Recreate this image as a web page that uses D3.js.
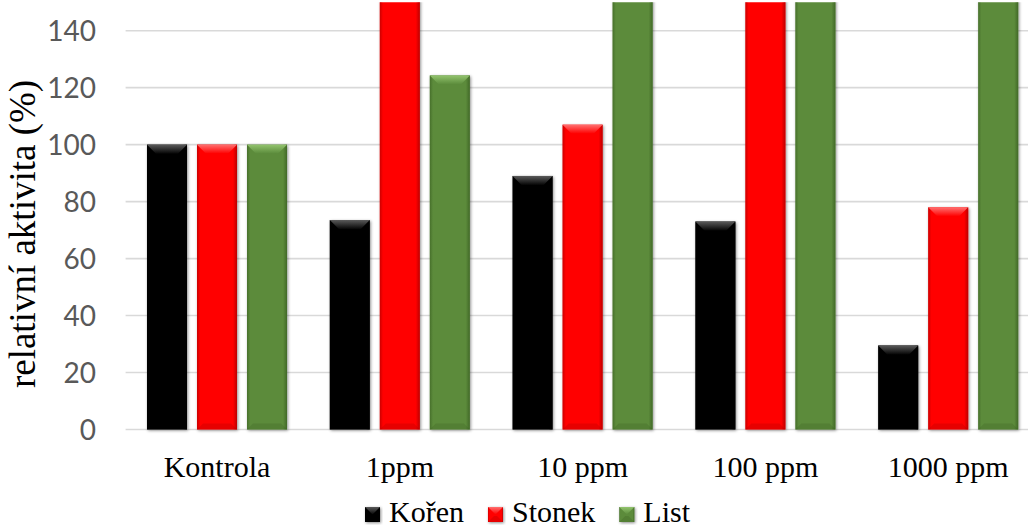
<!DOCTYPE html>
<html>
<head>
<meta charset="utf-8">
<script src="https://cdn.jsdelivr.net/npm/d3@7"></script>
<style>
  body { margin: 0; background: #fff; }
  svg { display: block; }
</style>
</head>
<body>
<script>
// data; bars above 150 run off the top of the chart
const categories = ['Kontrola', '1ppm', '10 ppm', '100 ppm', '1000 ppm']
const series = ['Kořen', 'Stonek', 'List']
const koren = [100, 73.5, 89, 73, 29.5]
const stonek = [100, 170, 107, 175, 78]
const list = [100, 124.3, 165, 180, 190]
const yTicks = [0, 20, 40, 60, 80, 100, 120, 140]
const colors = ['#050505', '#ff0000', '#5b8b3b']
const lights = ['#5a5a5a', '#ff7070', '#93c46e']
const darks = ['#000000', '#a00000', '#365a1f']

const W = 1028, H = 529
const margin = { top: 2.2, left: 125.6 }
const plotW = 914, plotH = 427.3
const serif = 'Liberation Serif, Times New Roman, serif'

const svg = d3.select('body').append('svg')
    .attr('width', W)
    .attr('height', H)

const defs = svg.append('defs')
defs.append('clipPath').attr('id', 'plotclip')
    .append('rect')
    .attr('x', margin.left - 5).attr('y', margin.top)
    .attr('width', plotW + 10).attr('height', plotH + 10)

const shadow = defs.append('filter').attr('id', 'shadow')
    .attr('x', '-20%').attr('y', '-20%').attr('width', '140%').attr('height', '140%')
shadow.append('feDropShadow')
    .attr('dx', 1).attr('dy', 1).attr('stdDeviation', 1.6)
    .attr('flood-color', '#000').attr('flood-opacity', 0.45)

series.forEach((s, i) => {
    let g = defs.append('linearGradient').attr('id', 'side' + i)
        .attr('x1', 0).attr('x2', 1).attr('y1', 0).attr('y2', 0)
    g.append('stop').attr('offset', 0).attr('stop-color', darks[i]).attr('stop-opacity', 0.55)
    g.append('stop').attr('offset', 0.08).attr('stop-color', darks[i]).attr('stop-opacity', 0)
    g.append('stop').attr('offset', 0.9).attr('stop-color', darks[i]).attr('stop-opacity', 0)
    g.append('stop').attr('offset', 1).attr('stop-color', darks[i]).attr('stop-opacity', 0.7)
    let t = defs.append('linearGradient').attr('id', 'top' + i)
        .attr('x1', 0).attr('x2', 0).attr('y1', 0).attr('y2', 1)
    t.append('stop').attr('offset', 0).attr('stop-color', lights[i])
    t.append('stop').attr('offset', 1).attr('stop-color', colors[i])
})

const data = categories.map((c, i) => ({
    cat: c,
    values: [koren[i], stonek[i], list[i]]
}))

const x = d3.scaleBand()
    .domain(categories)
    .range([margin.left, margin.left + plotW])
    .paddingInner(0.234)
    .paddingOuter(0.117)

const xSub = d3.scaleBand()
    .domain(series)
    .range([0, x.bandwidth()])
    .paddingInner(0.2)

const y = d3.scaleLinear()
    .domain([0, 150])
    .range([margin.top + plotH, margin.top])

// grid lines
svg.append('g')
    .selectAll('line')
    .data(yTicks)
    .enter().append('line')
    .attr('x1', margin.left)
    .attr('x2', margin.left + plotW)
    .attr('y1', d => y(d))
    .attr('y2', d => y(d))
    .attr('stroke', '#d9d9d9')
    .attr('stroke-width', 1.6)

// y tick labels
svg.append('g')
    .selectAll('text')
    .data(yTicks)
    .enter().append('text')
    .attr('x', 96)
    .attr('y', d => y(d))
    .attr('dy', '0.36em')
    .attr('text-anchor', 'end')
    .style('font-family', 'Lato, "Open Sans", sans-serif')
    .attr('font-size', 28)
    .attr('fill', '#595959')
    .text(d => d)

// y title
svg.append('text')
    .attr('transform', 'translate(35,' + 234 + ') rotate(-90)')
    .attr('text-anchor', 'middle')
    .style('font-family', serif)
    .attr('font-size', 37)
    .attr('fill', '#000')
    .text('relativní aktivita (%)')

// bars
function drawBar(g, bx, by, bw, bh, i) {
    g.append('rect')
        .attr('x', bx).attr('y', by).attr('width', bw).attr('height', bh)
        .attr('fill', colors[i])
        .attr('filter', 'url(#shadow)')
    g.append('rect')
        .attr('x', bx).attr('y', by).attr('width', bw).attr('height', bh)
        .attr('fill', 'url(#side' + i + ')')
    let b = Math.min(9, bh / 2)
    g.append('polygon')
        .attr('points', [[bx, by], [bx + bw, by], [bx + bw - b, by + b], [bx + b, by + b]].join(' '))
        .attr('fill', 'url(#top' + i + ')')
    let bb = Math.min(6, bh / 2)
    g.append('polygon')
        .attr('points', [[bx, by + bh], [bx + bw, by + bh], [bx + bw - bb, by + bh - bb], [bx + bb, by + bh - bb]].join(' '))
        .attr('fill', darks[i])
        .attr('fill-opacity', 0.25)
}

const barLayer = svg.append('g').attr('clip-path', 'url(#plotclip)')
data.forEach(d => {
    d.values.forEach((v, i) => {
        let g = barLayer.append('g')
        let bx = x(d.cat) + xSub(series[i])
        drawBar(g, bx, y(v), xSub.bandwidth(), y(0) - y(v), i)
    })
})

// category labels
svg.append('g')
    .selectAll('text')
    .data(categories)
    .enter().append('text')
    .attr('x', d => x(d) + x.bandwidth() / 2)
    .attr('y', 477)
    .attr('text-anchor', 'middle')
    .style('font-family', serif)
    .attr('font-size', 30)
    .attr('fill', '#000')
    .text(d => d)

// legend
const legend = svg.append('g').attr('class', 'legend')
let lx = 365
series.forEach((s, i) => {
    let g = legend.append('g')
    drawBar(g, lx, 507, 15, 15, i)
    let t = g.append('text')
        .attr('x', lx + 24)
        .attr('y', 522)
        .style('font-family', serif)
        .attr('font-size', 30)
        .attr('fill', '#000')
        .text(s)
    lx = lx + 24 + t.node().getComputedTextLength() + 24
})
</script>
</body>
</html>
